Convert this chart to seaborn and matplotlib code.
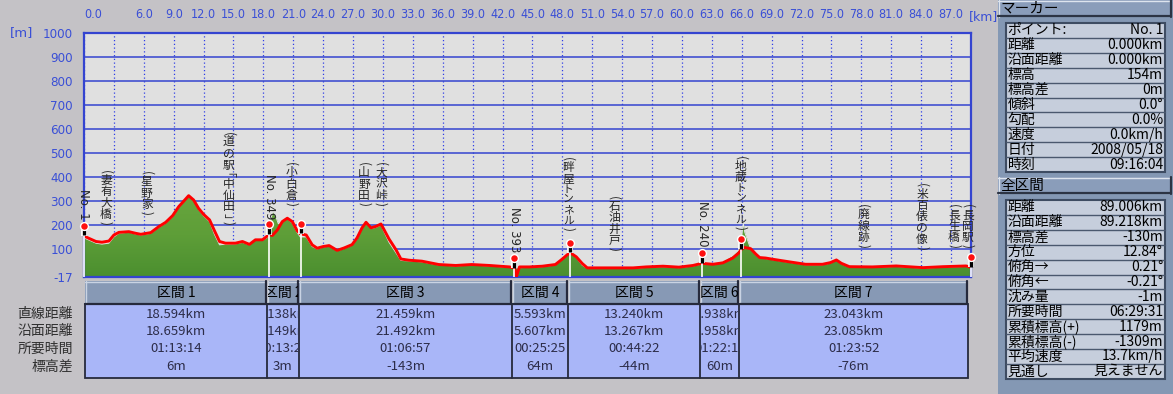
import numpy as np
import matplotlib
matplotlib.use("Agg")
import matplotlib.pyplot as plt
import seaborn as sns
from matplotlib.patches import Rectangle
from matplotlib.colors import LinearSegmentedColormap

# ---------------- data ----------------
route_km = [0, 0.5, 1.2, 1.8, 2.5, 3.0, 3.5, 4.5, 5.2, 5.7, 6.7, 7.5, 8.2, 8.9, 9.5, 10.2, 10.5, 11.0,
            11.5, 12.0, 12.6, 13.1, 13.6, 14.2, 15.2, 15.9, 16.6, 17.2, 17.9, 18.6, 18.9, 19.4, 19.9,
            20.4, 20.9, 21.4, 21.7, 22.3, 22.9, 23.4, 24.0, 24.6, 25.4, 26.1, 26.9, 27.4, 27.9, 28.3,
            28.8, 29.3, 29.8, 30.1, 30.6, 31.3, 31.8, 32.6, 33.9, 35.6, 37.3, 38.9, 40.7, 42.7, 43.2,
            43.4, 43.7, 44.7, 46.0, 47.3, 48.0, 48.5, 48.8, 49.4, 50.0, 50.5, 53.0, 55.1, 56.4, 58.1,
            59.7, 61.1, 62.0, 63.1, 64.1, 65.1, 65.7, 66.0, 66.3, 66.9, 67.4, 67.8, 68.4, 69.1, 70.8,
            72.4, 74.1, 74.9, 75.5, 76.0, 76.8, 79.1, 81.5, 84.2, 86.2, 88.5, 89.006]
route_elev = [154, 144, 131, 128, 133, 158, 169, 172, 165, 161, 168, 193, 211, 239, 276, 308, 322, 304,
              269, 244, 221, 175, 131, 124, 124, 131, 119, 138, 138, 160, 156, 179, 214,
              228, 214, 175, 163, 158, 117, 103, 110, 114, 94, 104, 118, 146, 188, 211,
              188, 194, 204, 181, 142, 97, 58, 53, 49, 35, 31, 35, 31, 25, 20,
              -14, 25, 25, 28, 35, 58, 76, 84, 67, 39, 21, 21, 21, 25, 28,
              24, 31, 40, 36, 42, 62, 83, 100, 106, 101, 79, 64, 62, 57, 46,
              36, 36, 43, 54, 40, 26, 25, 29, 22, 26, 29, 24]

terrain_km = [0, 0.5, 1.2, 1.8, 2.5, 3.0, 3.5, 4.5, 5.2, 5.7, 6.7, 7.5, 8.2, 8.9, 9.5, 10.2, 10.5, 11.0,
              11.5, 12.0, 12.6, 13.1, 13.6, 14.2, 15.2, 15.9, 16.6, 17.2, 17.9, 18.5, 18.8, 18.95, 19.2,
              19.5, 19.9, 20.4, 20.9, 21.4, 21.7, 22.3, 22.9, 23.4, 24.0, 24.6, 25.4, 26.1, 26.9, 27.4,
              27.9, 28.3, 28.8, 29.3, 29.8, 30.1, 30.6, 31.3, 31.8, 32.6, 33.9, 35.6, 37.3, 38.9, 40.7,
              42.7, 43.2, 43.4, 43.7, 44.7, 46.0, 47.3, 48.0, 48.5, 48.8, 49.4, 50.0, 50.5, 53.0, 55.1,
              56.4, 58.1, 59.7, 61.1, 62.0, 63.1, 64.1, 65.1, 65.7, 66.0, 66.15, 66.3, 66.6, 66.9, 67.4,
              67.8, 68.4, 69.1, 70.8, 72.4, 74.1, 74.9, 75.5, 76.0, 76.8, 79.1, 81.5, 84.2, 86.2, 88.5,
              89.006]
terrain_elev = [146, 137, 124, 120, 124, 150, 165, 170, 162, 158, 165, 190, 208, 236, 273, 306, 328, 305,
                265, 238, 214, 160, 117, 120, 121, 127, 117, 140, 136, 150, 230, 258, 240,
                205, 212, 226, 208, 168, 150, 150, 110, 100, 108, 112, 92, 102, 116, 142,
                185, 210, 185, 190, 200, 172, 128, 84, 52, 50, 46, 33, 29, 33, 29,
                23, 20, 20, 22, 23, 26, 33, 58, 78, 88, 64, 32, 19, 19, 19,
                23, 26, 22, 29, 37, 38, 48, 72, 95, 150, 210, 170, 135, 100, 76,
                62, 60, 55, 44, 34, 34, 41, 53, 38, 24, 23, 27, 20, 24, 27,
                22]

section_names = ["区間 1", "区間 2", "区間 3", "区間 4", "区間 5", "区間 6", "区間 7"]
section_len_km = [18.594, 3.138, 21.459, 5.593, 13.240, 3.938, 23.043]
section_straight = ["18.594km", "3.138km", "21.459km", "5.593km", "13.240km", "3.938km", "23.043km"]
section_surface = ["18.659km", "3.149km", "21.492km", "5.607km", "13.267km", "3.958km", "23.085km"]
section_time = ["01:13:14", "00:13:26", "01:06:57", "00:25:25", "00:44:22", "01:22:15", "01:23:52"]
section_dz = ["6m", "3m", "-143m", "64m", "-44m", "60m", "-76m"]
row_labels = ["直線距離", "沿面距離", "所要時間", "標高差"]

pin_labels = ["No. 1", "No. 349", "", "No. 393", "", "No. 240", "", ""]
pin_label_base = [222, 222, 0, 85, 0, 110, 0, 0]

landmark_names = ["(妻有大橋)", "(星野家)", "(道の駅｢中仙田｣)", "(小白倉)", "(山野田)", "(大沢峠)",
                  "(畔屋トンネル)", "(石油井戸)", "(地蔵トンネル)", "(廃線跡)", "(米百俵の像)",
                  "(長生橋)", "(長岡駅)"]
landmark_km = [2.2, 6.3, 14.5, 20.8, 28.1, 29.8, 48.6, 53.2, 65.9, 78.2, 84.1, 87.3, 88.7]
landmark_base = [193, 235, 193, 272, 272, 272, 168, 85, 172, 97, 89, 97, 97]

marker_keys = ["ポイント:", "距離", "沿面距離", "標高", "標高差", "傾斜", "勾配", "速度", "日付", "時刻"]
marker_vals = ["No. 1", "0.000km", "0.000km", "154m", "0m", "0.0°", "0.0%", "0.0km/h",
               "2008/05/18", "09:16:04"]
total_keys = ["距離", "沿面距離", "標高差", "方位", "俯角→", "俯角←", "沈み量", "所要時間",
              "累積標高(+)", "累積標高(-)", "平均速度", "見通し"]
total_vals = ["89.006km", "89.218km", "-130m", "12.84°", "0.21°", "-0.21°", "-1m", "06:29:31",
              "1179m", "-1309m", "13.7km/h", "見えません"]

x_tick_km = list(range(0, 88, 3))
x_tick_labels = ["0.0", ""] + ["%.1f" % v for v in range(6, 88, 3)]
y_ticks = [-17, 100, 200, 300, 400, 500, 600, 700, 800, 900, 1000]
y_tick_labels = ["-17", "100", "200", "300", "400", "500", "600", "700", "800", "900", "1000"]

# ---------------- style ----------------
sns.set_style("white")
CJK = ["Noto Sans CJK JP", "DejaVu Sans"]
plt.rcParams["font.family"] = CJK
BLUE = "#3444d0"
TICKC = "#3a4fd6"
TICKFONT = ["DejaVu Sans"]

W, H = 1173, 394
L, R, T, B = 84, 971, 33, 277
fig = plt.figure(figsize=(W / 100, H / 100), dpi=100, facecolor="#c4c2c6")
ax_o = fig.add_axes([0, 0, 1, 1], zorder=0)
ax_o.set_xlim(0, W)
ax_o.set_ylim(H, 0)
ax_o.set_autoscale_on(False)
ax_o.axis("off")

ax = fig.add_axes([L / W, 1 - B / H, (R - L) / W, (B - T) / H], zorder=1)
ax.set_facecolor("#e0e0e0")
total_km = route_km[-1]

# terrain (green) with a gentle vertical gradient
poly = ax.fill_between(terrain_km, -17, terrain_elev, color="#5a9a36", lw=0, zorder=2)
cmap = LinearSegmentedColormap.from_list("g", ["#4b8f2f", "#5e9e38", "#68a63e"])
im = ax.imshow(np.linspace(0, 1, 200).reshape(-1, 1), extent=(0, total_km, -17, 330), origin="lower",
               aspect="auto", cmap=cmap, zorder=2.1, interpolation="bilinear")
im.set_clip_path(poly.get_paths()[0], transform=ax.transData)
ax.plot(terrain_km, terrain_elev, color="#e4e4e4", lw=0.7, zorder=2.5)

# route (red)
sns.lineplot(x=route_km, y=route_elev, ax=ax, color="#ff0000", lw=2.1, zorder=3, legend=False)

ax.set_xlim(0, total_km)
ax.set_ylim(-17, 1000)
ax.set_xlabel("")
ax.set_ylabel("")

ax.set_xticks(x_tick_km)
ax.set_xticklabels(x_tick_labels)
ax.set_yticks(y_ticks)
ax.set_yticklabels(y_tick_labels)
ax.xaxis.tick_top()
ax.tick_params(axis="x", length=0, pad=9, labelcolor=TICKC, labelsize=9)
ax.tick_params(axis="y", length=0, pad=8, labelcolor=TICKC, labelsize=9.5)
for lab in ax.get_xticklabels() + ax.get_yticklabels():
    lab.set_family(TICKFONT)
    lab.set_fontstretch("condensed")
ax.get_xticklabels()[0].set_ha("left")
ax.yaxis.grid(True, color=BLUE, lw=1.1, zorder=1)
ax.xaxis.grid(True, color="#2f3fe6", lw=0.9, ls=(0, (1, 2)), zorder=1)
ax.set_axisbelow(True)
for s in ax.spines.values():
    s.set_color(BLUE)
    s.set_linewidth(1.6)
    s.set_visible(True)

fig.text(10 / W, 1 - 33 / H, "[m]", color=TICKC, fontsize=9.5, ha="left", va="center", family=TICKFONT)
fig.text(983 / W, 1 - 17 / H, "[km]", color=TICKC, fontsize=9, ha="center", va="center", family=TICKFONT)

# pins
pin_km = np.concatenate([[0.0], np.cumsum(section_len_km)])
pin_elev = np.interp(pin_km, route_km, route_elev)
ax.vlines(pin_km, -17, pin_elev, colors="white", lw=1.2, zorder=4, clip_on=False)
ax.vlines(pin_km, pin_elev, pin_elev + 33, colors="white", lw=4.2, zorder=5, clip_on=False)
ax.vlines(pin_km, pin_elev + 2, pin_elev + 31, colors="black", lw=2.4, zorder=5.1, clip_on=False)
ax.scatter(pin_km, pin_elev + 43, s=32, c="#ff1010", edgecolors="white", linewidths=1.0, zorder=6,
           clip_on=False)

for lab, km, base in zip(pin_labels, pin_km, pin_label_base):
    if lab:
        ax.annotate(lab, xy=(km, base), xytext=(0, 0), textcoords="offset pixels", rotation=-90,
                    ha="center", va="bottom", fontsize=8.5, family=["DejaVu Sans"], zorder=7,
                    annotation_clip=False)

ROTATED = "()｢｣"


def char_step(ch):
    if ch in "()":
        return 6.5
    if ch in "｢｣":
        return 7.6
    if "\u30a0" <= ch <= "\u30ff":
        return 10.4
    return 11.3


def char_size(ch):
    if "\u30a0" <= ch <= "\u30ff":
        return 7.8
    return 8.5


for name, km, base in zip(landmark_names, landmark_km, landmark_base):
    steps = [char_step(c) for c in name]
    off = 0.0
    for ch, st in zip(reversed(name), reversed(steps)):
        rot = -90 if ch in ROTATED else 0
        ax.annotate(ch, xy=(km, base), xytext=(0, off + st / 2), textcoords="offset pixels",
                    ha="center", va="center", rotation=rot, fontsize=char_size(ch), family=CJK,
                    zorder=7, annotation_clip=False)
        off += st

# ---------------- bottom section table ----------------
xs = ax.transData.transform(np.column_stack([pin_km, np.zeros_like(pin_km)]))[:, 0]
edges = xs - 2.0
edges[0] = xs[0] + 0.5
edges[-1] = xs[-1] - 3.0
HY0, HY1, DY1 = 281, 304, 378
DARK = "#262a3c"
ax_o.add_patch(Rectangle((edges[0], HY1), edges[-1] - edges[0], DY1 - HY1, fc="#a9b6f8", ec=DARK, lw=1.3))
row_y = [314, 331.5, 349, 366.5]
rows = [section_straight, section_surface, section_time, section_dz]
for i in range(len(section_names)):
    x0, x1 = edges[i], edges[i + 1]
    ax_o.add_patch(Rectangle((x0 + 0.5, HY0), x1 - x0 - 1.5, HY1 - HY0, fc="#8799b5", ec="none"))
    ax_o.plot([x0 + 0.5, x1 - 1], [HY0 + 0.5, HY0 + 0.5], color="#c9d3e3", lw=1.0)
    ax_o.plot([x0 + 1, x0 + 1], [HY0, HY1], color="#c9d3e3", lw=1.0)
    ax_o.plot([x0 + 0.5, x1 - 1], [HY1 - 0.5, HY1 - 0.5], color=DARK, lw=1.6)
    ax_o.plot([x1 - 1, x1 - 1], [HY0, HY1], color=DARK, lw=1.6)
    if i > 0:
        ax_o.plot([x0, x0], [HY1, DY1], color=DARK, lw=1.3)
    hclip = Rectangle((x0 + 1, HY0), x1 - x0 - 2, HY1 - HY0, transform=ax_o.transData)
    t = ax_o.text((x0 + x1) / 2, (HY0 + HY1) / 2, section_names[i], ha="center", va="center",
                  fontsize=10, color="black")
    t.set_clip_path(hclip)
    t.set_clip_on(True)
    dclip = Rectangle((x0 + 1, HY1), x1 - x0 - 2, DY1 - HY1, transform=ax_o.transData)
    for vals, yy in zip(rows, row_y):
        t = ax_o.text((x0 + x1) / 2, yy, vals[i], ha="center", va="center", fontsize=9.5,
                      color="#2c2c48")
        t.set_clip_path(dclip)
        t.set_clip_on(True)
for lab, yy in zip(row_labels, row_y):
    ax_o.text(73, yy, lab, ha="right", va="center", fontsize=10, color="#303030")

# ---------------- right panel ----------------
PX0, PX1 = 998, 1171
ax_o.add_patch(Rectangle((PX0, 0), W - PX0, H, fc="#8498b4", ec="none"))


def bar(y0, y1, text):
    ax_o.add_patch(Rectangle((PX0, y0), PX1 - PX0, y1 - y0, fc="#8a9dba", ec="none"))
    ax_o.plot([PX0, PX1], [y0 + 0.5, y0 + 0.5], color="#dde4ee", lw=1.0)
    ax_o.plot([PX0 + 0.5, PX0 + 0.5], [y0, y1], color="#dde4ee", lw=1.0)
    ax_o.plot([PX0, PX1], [y1 - 0.7, y1 - 0.7], color="#2c3444", lw=1.6)
    ax_o.plot([PX1, PX1], [y0, y1], color="#2c3444", lw=1.6)
    ax_o.text(PX0 + 2, (y0 + y1) / 2, text, ha="left", va="center", fontsize=10.5, color="black")


def kv_table(y0, keys, vals, rh=14.9):
    n = len(keys)
    ax_o.add_patch(Rectangle((1005.5, y0), 159.5, n * rh, fc="#c6cedc", ec="#3e4c62", lw=1.5))
    for i, (k, v) in enumerate(zip(keys, vals)):
        yc = y0 + (i + 0.5) * rh
        if i > 0:
            ax_o.plot([1005.5, 1165], [y0 + i * rh] * 2, color="#4a586e", lw=1.0)
        ax_o.text(1007.5, yc, k, ha="left", va="center", fontsize=10, color="black")
        ax_o.text(1163, yc, v, ha="right", va="center", fontsize=10, color="black")


bar(0, 17, "マーカー")
kv_table(23, marker_keys, marker_vals)
bar(177, 194, "全区間")
kv_table(200, total_keys, total_vals)

fig.savefig("out.png", dpi=100, facecolor=fig.get_facecolor())
